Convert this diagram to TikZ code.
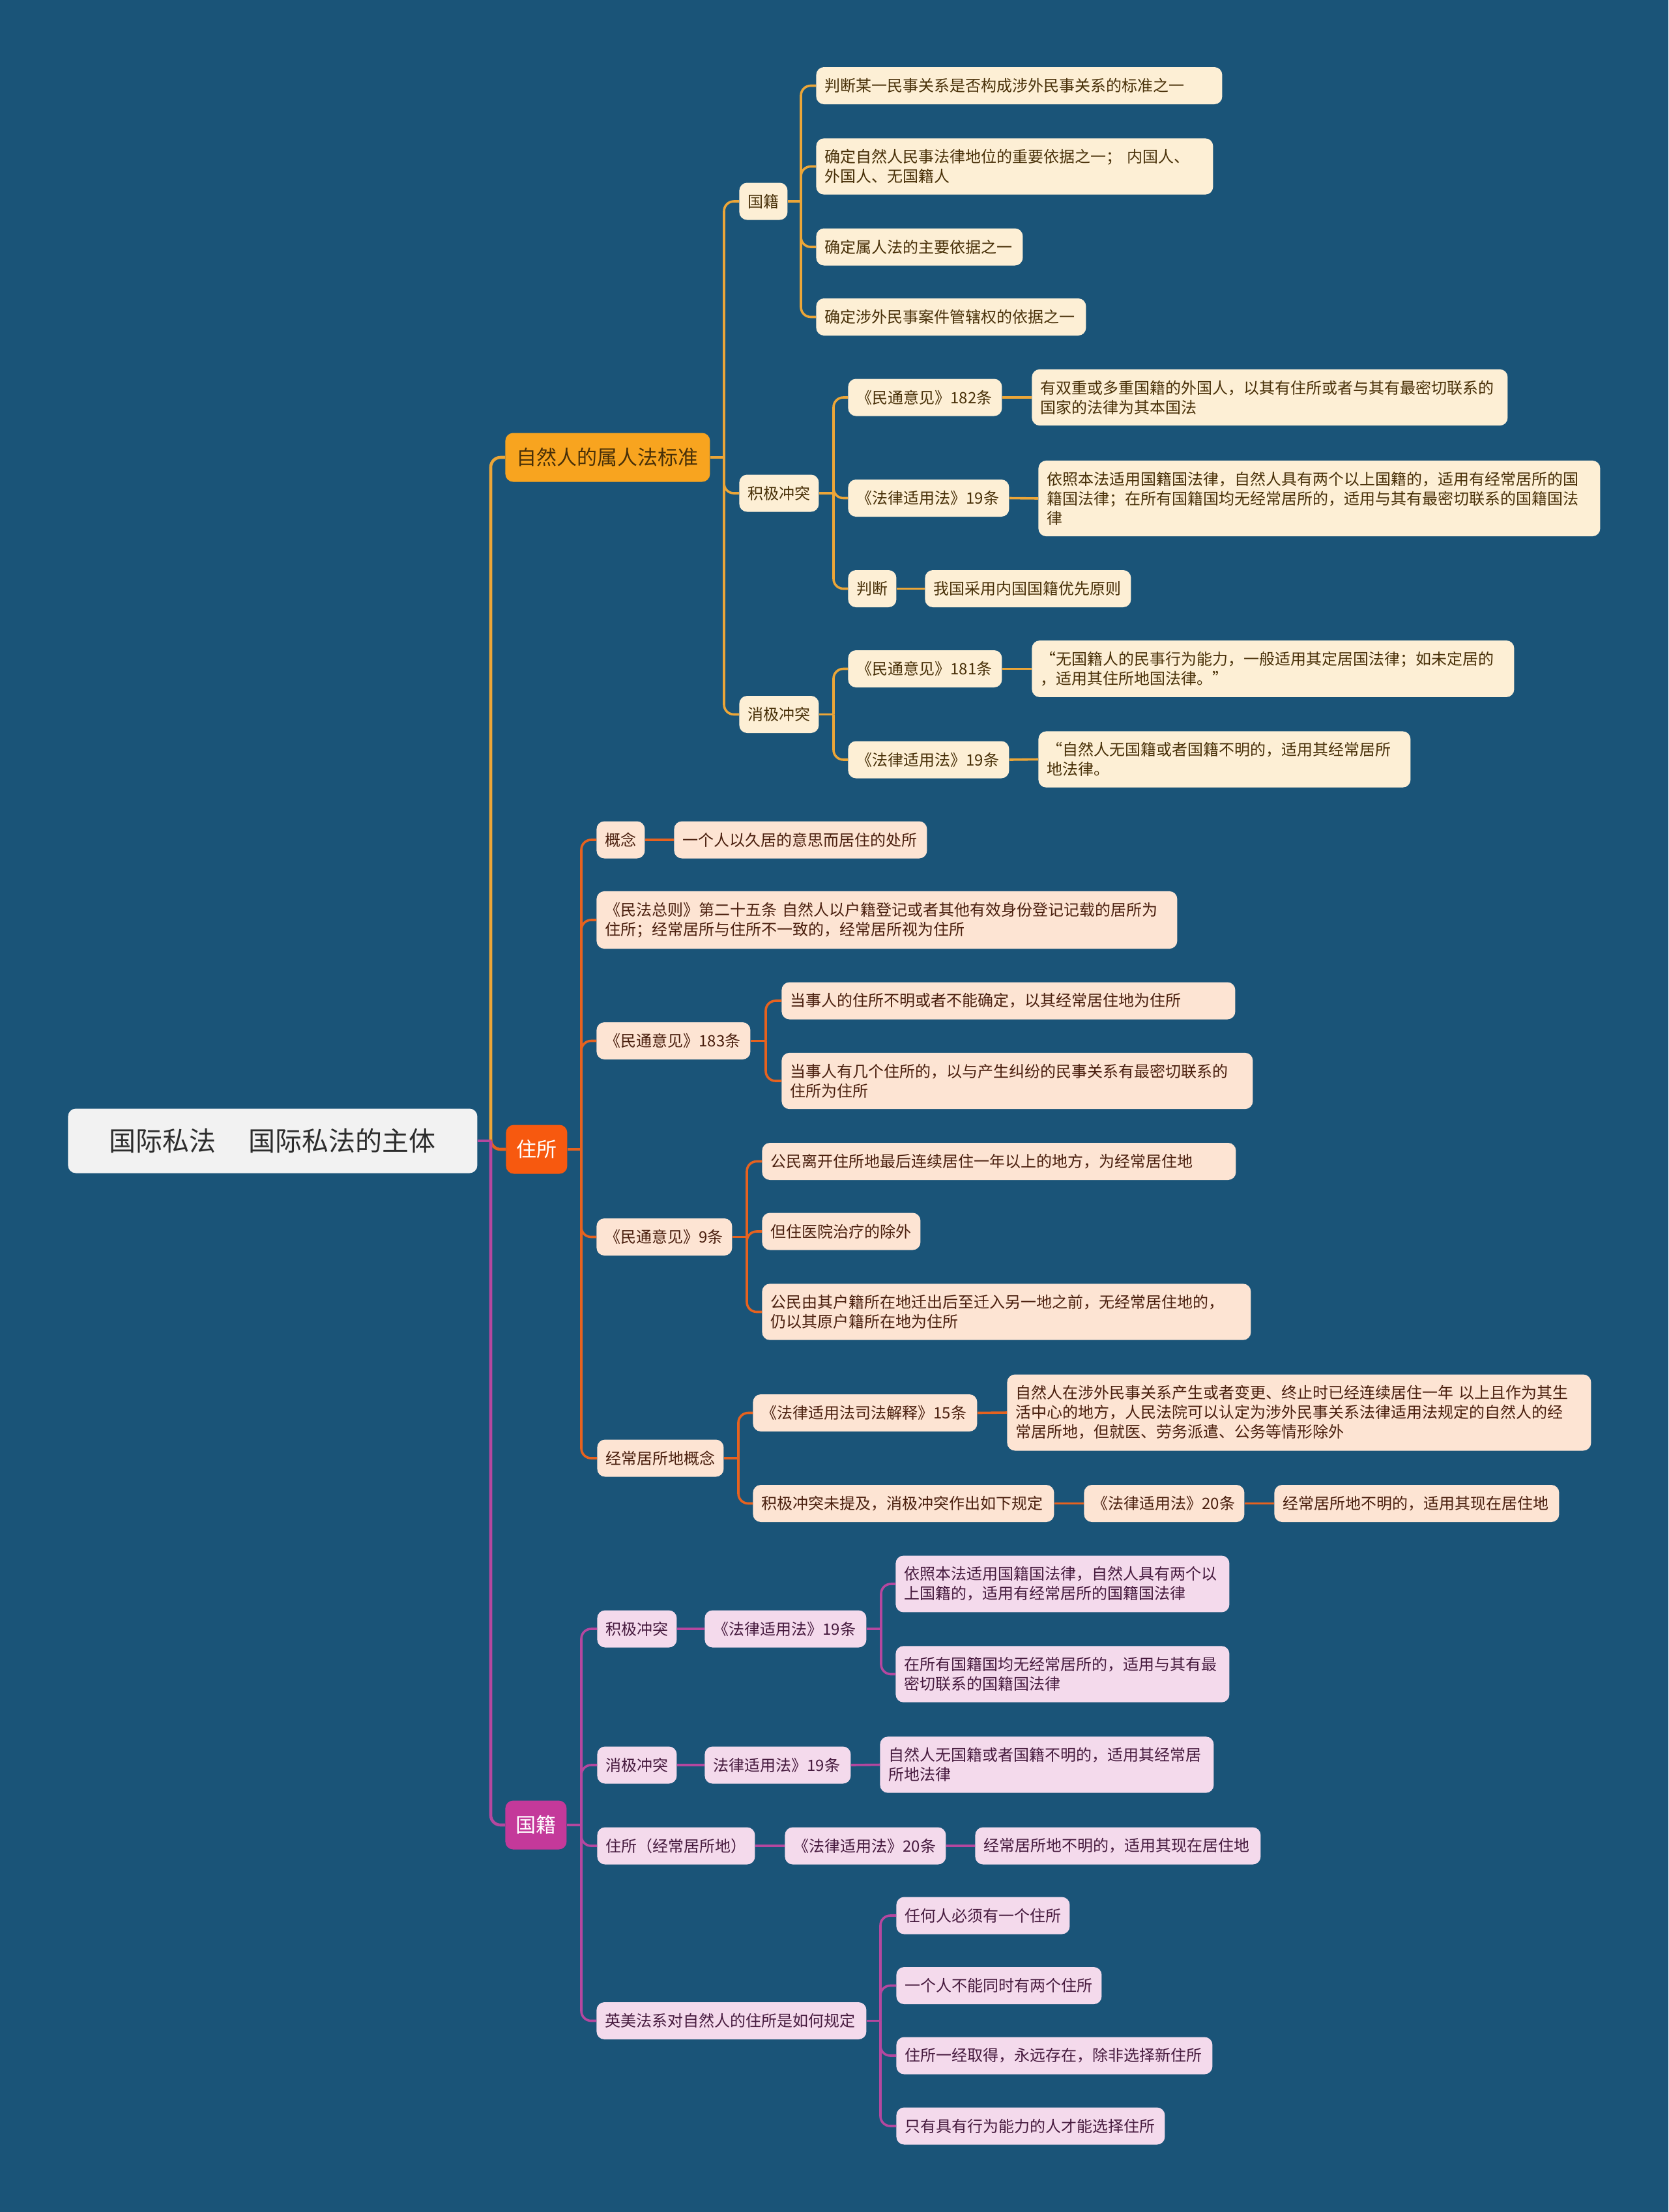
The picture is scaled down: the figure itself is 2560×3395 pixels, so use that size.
\documentclass[tikz,border=0pt]{standalone}
\usepackage{fontspec}
\setmainfont{Noto Sans CJK SC}
\definecolor{bg}{RGB}{26,84,120}
\definecolor{rootfill}{RGB}{242,242,242}
\definecolor{roottext}{RGB}{45,45,45}
\definecolor{gfill}{RGB}{248,164,31}
\definecolor{gline}{RGB}{236,166,56}
\definecolor{gleaf}{RGB}{253,239,213}
\definecolor{gtext}{RGB}{72,48,8}
\definecolor{ofill}{RGB}{247,89,15}
\definecolor{oline}{RGB}{230,98,31}
\definecolor{oleaf}{RGB}{253,228,211}
\definecolor{otext}{RGB}{74,31,14}
\definecolor{mfill}{RGB}{196,57,154}
\definecolor{mline}{RGB}{181,71,159}
\definecolor{mleaf}{RGB}{244,218,236}
\definecolor{mtext}{RGB}{70,26,62}
\tikzset{
  rootbox/.style={anchor=west, rounded corners=6pt, fill=rootfill, text=roottext,
    minimum width=314pt, minimum height=49.5pt, font=\fontsize{20.5}{24}\selectfont},
  lone/.style={anchor=west, rounded corners=6pt, inner xsep=8pt, inner ysep=0pt,
    minimum height=37.5pt, font=\fontsize{15.5}{19}\selectfont},
  leafbox/.style={anchor=west, rounded corners=6pt, inner xsep=6.5pt, inner ysep=8.5pt,
    minimum height=28.5pt, align=left, font=\fontsize{12}{15}\selectfont},
  gl/.style={leafbox, fill=gleaf, text=gtext},
  ol/.style={leafbox, fill=oleaf, text=otext},
  ml/.style={leafbox, fill=mleaf, text=mtext},
  wideline/.style={line width=2.3pt},
  conn/.style={line width=1.8pt, rounded corners=7.5pt},
  gc/.style={conn, draw=gline},
  oc/.style={conn, draw=oline},
  mc/.style={conn, draw=mline},
}
\begin{document}
\begin{tikzpicture}[x=0.5pt,y=-0.5pt]
\fill[bg] (0,0) rectangle (2560,3395);
\useasboundingbox (0,0) rectangle (2560,3395);

% root and level 1
\node[rootbox] (root) at (104,1751) {国际私法　 国际私法的主体};
\node[lone, fill=gfill, text=gtext, minimum width=157pt] (zrr) at (775,702) {自然人的属人法标准};
\node[lone, fill=ofill, text=white, minimum width=47pt] (zs) at (776,1764) {住所};
\node[lone, fill=mfill, text=white, minimum width=47pt] (gjb) at (775,2801) {国籍};

% gold branch
\node[gl, text width=24pt] (gj) at (1134,309) {国籍};
\node[gl, text width=298.5pt] (g1) at (1252,131.5) {判断某一民事关系是否构成涉外民事关系的标准之一};
\node[gl, text width=291.5pt] (g2) at (1252,255.5) {确定自然人民事法律地位的重要依据之一；~内国人、\\外国人、无国籍人};
\node[gl, text width=145.5pt] (g3) at (1252,379) {确定属人法的主要依据之一};
\node[gl, text width=194pt] (g4) at (1252,486.5) {确定涉外民事案件管辖权的依据之一};

\node[gl, text width=48pt] (jj) at (1134,757) {积极冲突};
\node[gl, text width=105pt] (jj1) at (1301,610) {《民通意见》182条};
\node[gl, text width=352pt] (jj1a) at (1583,610) {有双重或多重国籍的外国人，以其有住所或者与其有最密切联系的\\国家的法律为其本国法};
\node[gl, text width=110.5pt] (jj2) at (1301,764.5) {《法律适用法》19条};
\node[gl, text width=418pt] (jj2a) at (1593,765) {依照本法适用国籍国法律，自然人具有两个以上国籍的，适用有经常居所的国\\籍国法律；在所有国籍国均无经常居所的，适用与其有最密切联系的国籍国法\\律};
\node[gl, text width=24pt] (jj3) at (1301,903.5) {判断};
\node[gl, text width=145pt] (jj3a) at (1419,903.5) {我国采用内国国籍优先原则};

\node[gl, text width=48pt] (xj) at (1134,1096.5) {消极冲突};
\node[gl, text width=105pt] (xj1) at (1301,1026.5) {《民通意见》181条};
\node[gl, text width=357pt] (xj1a) at (1583,1026.5) {“无国籍人的民事行为能力，一般适用其定居国法律；如未定居的\\，适用其住所地国法律。”};
\node[gl, text width=110.5pt] (xj2) at (1301,1166) {《法律适用法》19条};
\node[gl, text width=272.5pt] (xj2a) at (1593,1165.5) {“自然人无国籍或者国籍不明的，适用其经常居所\\地法律。};

% orange branch
\node[ol, text width=24pt] (gn) at (915,1289) {概念};
\node[ol, text width=181pt] (gna) at (1034,1289) {一个人以久居的意思而居住的处所};
\node[ol, text width=432.5pt] (mfzz) at (915,1412) {《民法总则》第二十五条~自然人以户籍登记或者其他有效身份登记记载的居所为\\住所；经常居所与住所不一致的，经常居所视为住所};
\node[ol, text width=105pt] (m183) at (915,1597.5) {《民通意见》183条};
\node[ol, text width=335pt] (m183a) at (1199,1536) {当事人的住所不明或者不能确定，以其经常居住地为住所};
\node[ol, text width=348.5pt] (m183b) at (1199,1659) {当事人有几个住所的，以与产生纠纷的民事关系有最密切联系的\\住所为住所};
\node[ol, text width=91pt] (m9) at (915,1898.5) {《民通意见》9条};
\node[ol, text width=350.5pt] (m9a) at (1169,1782.5) {公民离开住所地最后连续居住一年以上的地方，为经常居住地};
\node[ol, text width=108.5pt] (m9b) at (1169,1890) {但住医院治疗的除外};
\node[ol, text width=362pt] (m9c) at (1169,2013.5) {公民由其户籍所在地迁出后至迁入另一地之前，无经常居住地的，\\仍以其原户籍所在地为住所};
\node[ol, text width=84pt] (jc) at (916,2238) {经常居所地概念};
\node[ol, text width=159pt] (jc1) at (1155,2168.5) {《法律适用法司法解释》15条};
\node[ol, text width=435pt] (jc1a) at (1545,2168) {自然人在涉外民事关系产生或者变更、终止时已经连续居住一年~以上且作为其生\\活中心的地方，人民法院可以认定为涉外民事关系法律适用法规定的自然人的经\\常居所地，但就医、劳务派遣、公务等情形除外};
\node[ol, text width=218pt] (jc2) at (1155,2307.5) {积极冲突未提及，消极冲突作出如下规定};
\node[ol, text width=110pt] (jc2a) at (1663,2307.5) {《法律适用法》20条};
\node[ol, text width=205.5pt] (jc2b) at (1955,2307.5) {经常居所地不明的，适用其现在居住地};

% magenta branch
\node[ml, text width=48pt] (p1) at (916,2500) {积极冲突};
\node[ml, text width=111pt] (p1a) at (1081,2500) {《法律适用法》19条};
\node[ml, text width=243pt] (p1b) at (1374,2431) {依照本法适用国籍国法律，自然人具有两个以\\上国籍的，适用有经常居所的国籍国法律};
\node[ml, text width=243pt] (p1c) at (1374,2569.5) {在所有国籍国均无经常居所的，适用与其有最\\密切联系的国籍国法律};
\node[ml, text width=48pt] (p2) at (916,2709) {消极冲突};
\node[ml, text width=99pt] (p2a) at (1081,2709) {法律适用法》19条};
\node[ml, text width=243pt] (p2b) at (1350,2708.5) {自然人无国籍或者国籍不明的，适用其经常居\\所地法律};
\node[ml, text width=108pt] (p3) at (916,2833) {住所（经常居所地）};
\node[ml, text width=110.5pt] (p3a) at (1204,2833) {《法律适用法》20条};
\node[ml, text width=206pt] (p3b) at (1496,2833) {经常居所地不明的，适用其现在居住地};
\node[ml, text width=194pt] (p4) at (915,3101.5) {英美法系对自然人的住所是如何规定};
\node[ml, text width=120pt] (p4a) at (1375,2940) {任何人必须有一个住所};
\node[ml, text width=144.5pt] (p4b) at (1375,3047.5) {一个人不能同时有两个住所};
\node[ml, text width=229.5pt] (p4c) at (1375,3155) {住所一经取得，永远存在，除非选择新住所};
\node[ml, text width=193pt] (p4d) at (1375,3263) {只有具有行为能力的人才能选择住所};

% trunk coordinates
\coordinate (t0) at (753,0 |- root.east);
\coordinate (tzrr) at (1111,0 |- zrr.east);
\coordinate (tgj) at (1229,0 |- gj.east);
\coordinate (tjj) at (1279,0 |- jj.east);
\coordinate (txj) at (1279,0 |- xj.east);
\coordinate (tzs) at (892,0 |- zs.east);
\coordinate (tm183) at (1175,0 |- m183.east);
\coordinate (tm9) at (1146,0 |- m9.east);
\coordinate (tjc) at (1133,0 |- jc.east);
\coordinate (tgjb) at (892,0 |- gjb.east);
\coordinate (tp1a) at (1352,0 |- p1a.east);
\coordinate (tp4) at (1351,0 |- p4.east);

% level 1 connectors
\draw[gc, wideline] (t0) |- (zrr.west);
\draw[oc, wideline] (t0) |- (zs.west);
\draw[mc, wideline] (t0) |- (gjb.west);
\draw[mline, wideline] (root.east) -- (t0);

% gold connectors
\draw[gc] (zrr.east) -- (tzrr);
\draw[gc] (tzrr) |- (gj.west);
\draw[gc] (tzrr) |- (jj.west);
\draw[gc] (tzrr) |- (xj.west);
\draw[gc] (gj.east) -- (tgj);
\draw[gc] (tgj) |- (g1.west);
\draw[gc] (tgj) |- (g2.west);
\draw[gc] (tgj) |- (g3.west);
\draw[gc] (tgj) |- (g4.west);
\draw[gc] (jj.east) -- (tjj);
\draw[gc] (tjj) |- (jj1.west);
\draw[gc] (tjj) |- (jj2.west);
\draw[gc] (tjj) |- (jj3.west);
\draw[gc] (jj1.east) -- (jj1a.west);
\draw[gc] (jj2.east) -- (jj2a.west);
\draw[gc] (jj3.east) -- (jj3a.west);
\draw[gc] (xj.east) -- (txj);
\draw[gc] (txj) |- (xj1.west);
\draw[gc] (txj) |- (xj2.west);
\draw[gc] (xj1.east) -- (xj1a.west);
\draw[gc] (xj2.east) -- (xj2a.west);

% orange connectors
\draw[oc] (zs.east) -- (tzs);
\draw[oc] (tzs) |- (gn.west);
\draw[oc] (tzs) |- (mfzz.west);
\draw[oc] (tzs) |- (m183.west);
\draw[oc] (tzs) |- (m9.west);
\draw[oc] (tzs) |- (jc.west);
\draw[oc] (gn.east) -- (gna.west);
\draw[oc] (m183.east) -- (tm183);
\draw[oc] (tm183) |- (m183a.west);
\draw[oc] (tm183) |- (m183b.west);
\draw[oc] (m9.east) -- (tm9);
\draw[oc] (tm9) |- (m9a.west);
\draw[oc] (tm9) |- (m9b.west);
\draw[oc] (tm9) |- (m9c.west);
\draw[oc] (jc.east) -- (tjc);
\draw[oc] (tjc) |- (jc1.west);
\draw[oc] (tjc) |- (jc2.west);
\draw[oc] (jc1.east) -- (jc1a.west);
\draw[oc] (jc2.east) -- (jc2a.west);
\draw[oc] (jc2a.east) -- (jc2b.west);

% magenta connectors
\draw[mc] (gjb.east) -- (tgjb);
\draw[mc] (tgjb) |- (p1.west);
\draw[mc] (tgjb) |- (p2.west);
\draw[mc] (tgjb) |- (p3.west);
\draw[mc] (tgjb) |- (p4.west);
\draw[mc] (p1.east) -- (p1a.west);
\draw[mc] (p1a.east) -- (tp1a);
\draw[mc] (tp1a) |- (p1b.west);
\draw[mc] (tp1a) |- (p1c.west);
\draw[mc] (p2.east) -- (p2a.west);
\draw[mc] (p2a.east) -- (p2b.west);
\draw[mc] (p3.east) -- (p3a.west);
\draw[mc] (p3a.east) -- (p3b.west);
\draw[mc] (p4.east) -- (tp4);
\draw[mc] (tp4) |- (p4a.west);
\draw[mc] (tp4) |- (p4b.west);
\draw[mc] (tp4) |- (p4c.west);
\draw[mc] (tp4) |- (p4d.west);
\end{tikzpicture}
\end{document}
